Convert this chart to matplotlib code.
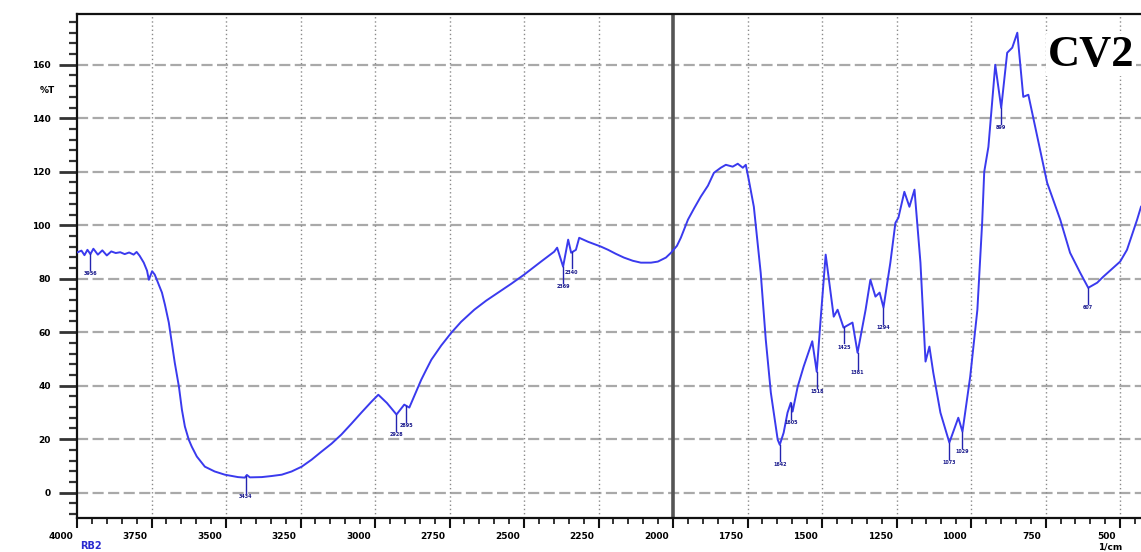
import numpy as np
import matplotlib
matplotlib.use("Agg")
import matplotlib.pyplot as plt
from matplotlib.ticker import MultipleLocator
import matplotlib.transforms as mtransforms

# ---------------------------------------------------------
# spectrum data
# ---------------------------------------------------------
wavenumber = [
    4000, 3985, 3975, 3965, 3955, 3945, 3930, 3915, 3900, 3885, 3870, 3855,
    3840, 3825, 3810, 3800, 3790, 3776, 3765, 3759, 3748, 3739, 3715, 3705,
    3692, 3682, 3672, 3658, 3648, 3638, 3625, 3615, 3598, 3571, 3538, 3504,
    3460, 3437, 3430, 3420, 3380, 3347, 3313, 3280, 3246, 3213, 3180, 3146,
    3113, 3079, 3046, 3012, 2989, 2960, 2928, 2902, 2885, 2845, 2828, 2811,
    2778, 2744, 2711, 2667, 2627, 2587, 2543, 2500, 2443, 2399, 2389, 2369,
    2352, 2342, 2326, 2315, 2285, 2242, 2218, 2192, 2165, 2135, 2108, 2074,
    2051, 2024, 2007, 1987, 1974, 1950, 1930, 1907, 1883, 1863, 1840, 1823,
    1800, 1783, 1766, 1756, 1746, 1729, 1706, 1689, 1672, 1649, 1642, 1629,
    1616, 1605, 1599, 1582, 1562, 1539, 1533, 1518, 1505, 1488, 1461, 1448,
    1428, 1398, 1381, 1354, 1338, 1321, 1307, 1294, 1271, 1254, 1244, 1224,
    1207, 1190, 1170, 1153, 1140, 1127, 1103, 1073, 1043, 1029, 1003, 979,
    963, 956, 942, 919, 899, 879, 862, 845, 825, 808, 778, 745, 701, 668,
    634, 607, 577, 557, 500, 477, 443, 430,
]
transmittance = [
    89.8, 90.5, 88.8, 90.8, 89.2, 91.2, 89.0, 90.6, 88.7, 90.2, 89.6, 89.9,
    89.2, 89.8, 89.0, 90.0, 88.6, 86.0, 83.0, 79.6, 82.8, 81.5, 74.8, 70.3,
    63.6, 56.1, 48.6, 39.6, 31.0, 24.7, 19.8, 17.2, 13.5, 9.7, 7.9, 6.7,
    5.8, 5.6, 6.6, 5.7, 5.8, 6.2, 6.7, 7.9, 9.7, 12.3, 15.3, 18.3,
    21.7, 25.8, 29.9, 34.0, 36.6, 33.5, 29.2, 32.9, 31.8, 42.2, 46.0, 49.7,
    55.0, 59.8, 63.9, 68.4, 71.8, 74.8, 78.1, 81.5, 86.4, 90.1, 91.6, 84.5,
    94.6, 89.7, 90.8, 95.3, 93.8, 92.0, 90.8, 89.3, 87.9, 86.7, 86.0, 86.0,
    86.4, 87.9, 89.7, 92.3, 95.3, 102.1, 106.2, 110.7, 114.8, 119.6, 121.5, 122.6,
    121.9, 123.0, 121.5, 122.6, 117.0, 106.9, 82.2, 57.2, 37.4, 19.8, 17.9, 22.4,
    29.9, 33.6, 30.3, 39.6, 47.1, 54.6, 56.6, 45.2, 64.7, 89.0, 65.8, 68.4,
    61.7, 63.6, 52.3, 68.4, 79.6, 73.3, 74.8, 69.2, 86.0, 100.9, 102.8, 112.5,
    106.9, 113.3, 86.0, 49.0, 54.6, 44.9, 29.9, 18.7, 28.0, 22.8, 43.4, 68.4,
    100.9, 120.0, 129.3, 160.0, 143.9, 164.5, 166.4, 172.0, 148.0, 148.8, 133.1, 115.9, 102.1, 89.7,
    82.2, 76.6, 78.5, 80.7, 86.4, 90.8, 102.1, 106.9,
]

# picked peaks
peak_wn = [3956, 3434, 2928, 2895, 2369, 2340, 1642, 1605, 1518, 1425,
           1381, 1294, 1073, 1029, 899, 607]
peak_labels = ["3956", "3434", "2928", "2895", "2369", "2340", "1642", "1605",
               "1518", "1425", "1381", "1294", "1073", "1029", "899", "607"]

y_ticks = [0, 20, 40, 60, 80, 100, 120, 140, 160]
x_ticks = [4000, 3750, 3500, 3250, 3000, 2750, 2500, 2250, 2000,
           1750, 1500, 1250, 1000, 750, 500]

# ---------------------------------------------------------
# figure
# ---------------------------------------------------------
fig = plt.figure(figsize=(11.41, 5.52), dpi=100)
ax = fig.add_axes([77 / 1141, 34 / 552, 1 - 77 / 1141, (518 - 14) / 552])

ax.set_xlim(4000, 430)
ax.set_ylim(-9.5, 179)

# grid
for yv in y_ticks:
    ax.axhline(yv, color="#a9a9a9", lw=1.6, ls=(0, (5, 2)), zorder=0)
for xv in x_ticks[1:]:
    if xv == 2000:
        ax.axvline(xv, color="#555555", lw=2.6, zorder=1)
    else:
        ax.axvline(xv, color="#8a8a8a", lw=1.0, ls=(0, (1, 2)), zorder=0)

# spectrum
ax.plot(wavenumber, transmittance, color="#3a3aee", lw=1.4, zorder=3)

# peak markers
peak_y = np.interp(peak_wn, wavenumber[::-1], transmittance[::-1])
for wn, yv, lab in zip(peak_wn, peak_y, peak_labels):
    ax.plot([wn, wn], [yv, yv - 6], color="#2424b0", lw=1.0, zorder=4)
    ax.text(wn, yv - 6.5, lab, fontsize=3.5, color="#1a1a8c",
            ha="center", va="top", fontweight="bold", zorder=4)

# ticks
ax.set_xticks(x_ticks)
ax.xaxis.set_minor_locator(MultipleLocator(50))
ax.set_yticks(y_ticks)
ax.yaxis.set_minor_locator(MultipleLocator(4))

ax.tick_params(axis="y", which="major", direction="out", length=13, width=2,
               color="#333333", labelsize=6.5, pad=6)
ax.tick_params(axis="y", which="minor", direction="out", length=6, width=1.6,
               color="#333333")
ax.tick_params(axis="x", which="major", direction="out", length=7, width=1.5,
               color="#111111", labelsize=6.5, pad=3)
ax.tick_params(axis="x", which="minor", direction="out", length=4, width=1.2,
               color="#111111")

offset = mtransforms.ScaledTranslation(-3 / 72, 0, fig.dpi_scale_trans)
for lab in ax.get_xticklabels():
    lab.set_ha("right")
    lab.set_fontweight("bold")
    lab.set_transform(lab.get_transform() + offset)
for lab in ax.get_yticklabels():
    lab.set_fontweight("bold")

# frame
ax.spines["right"].set_visible(False)
for s in ["left", "bottom", "top"]:
    ax.spines[s].set_linewidth(1.6)
    ax.spines[s].set_color("#111111")

# labels
ax.text(-0.028, 150.5, "%T", transform=ax.get_yaxis_transform(),
        fontsize=6.5, fontweight="bold", ha="center", va="center")
fig.text(80 / 1141, 1 - 546 / 552, "RB2", fontsize=7, fontweight="bold",
         color="#2a2ad0", ha="left", va="center")
fig.text(1110 / 1141, 1 - 547 / 552, "1/cm", fontsize=6.5, fontweight="bold",
         ha="center", va="center")

ax.text(1091 / 1141, 1 - 55 / 552, "CV2", transform=fig.transFigure,
        fontsize=32, fontweight="bold", family="Liberation Serif",
        ha="center", va="center", zorder=5,
        bbox=dict(facecolor="white", edgecolor="none", pad=1))

fig.savefig("out.png", dpi=100)
